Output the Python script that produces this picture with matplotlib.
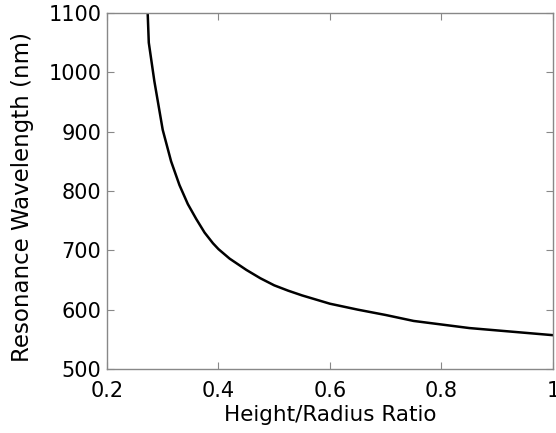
import matplotlib
matplotlib.use("Agg")
import matplotlib.pyplot as plt

# values
ratio = [0.273, 0.275, 0.285, 0.30, 0.315, 0.33, 0.345, 0.36, 0.375, 0.39,
         0.40, 0.42, 0.45, 0.475, 0.50, 0.525, 0.55, 0.575, 0.60, 0.65,
         0.70, 0.75, 0.80, 0.85, 0.90, 0.95, 1.0]
wavelength = [1100, 1050, 985, 903, 850, 810, 778, 753, 730, 712,
              702, 686, 667, 653, 641, 632, 624, 617, 610, 600,
              591, 581, 575, 569, 565, 561, 557]

x_ticks = [0.2, 0.4, 0.6, 0.8, 1.0]
x_tick_labels = ["0.2", "0.4", "0.6", "0.8", "1"]
y_ticks = [500, 600, 700, 800, 900, 1000, 1100]

plt.rcParams['font.family'] = ['DejaVu Sans']

fig = plt.figure(figsize=(5.56, 4.33), dpi=100)
ax = fig.add_axes([0.1924, 0.1478, 0.8022, 0.8222])

ax.plot(ratio, wavelength, color="black", linewidth=1.8)

ax.set_xlim(0.2, 1.0)
ax.set_ylim(500, 1100)
ax.set_xticks(x_ticks)
ax.set_xticklabels(x_tick_labels)
ax.set_yticks(y_ticks)

ax.tick_params(direction="in", top=True, right=True, length=5,
               color="#888888", labelsize=15)
ax.tick_params(axis="x", pad=8.5)
ax.tick_params(axis="y", pad=4)
for s in ax.spines.values():
    s.set_color("#888888")
    s.set_linewidth(1.0)

ax.set_xlabel("Height/Radius Ratio", fontsize=15.5)
ax.set_ylabel("Resonance Wavelength (nm)", fontsize=16.5)
ax.xaxis.set_label_coords(0.5, -0.10)
ax.yaxis.set_label_coords(-0.163, 0.483)

fig.savefig("out.png", dpi=100)
